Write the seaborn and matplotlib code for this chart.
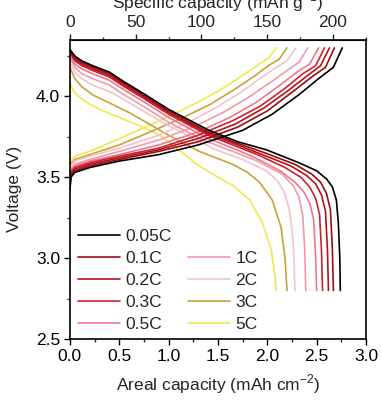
import matplotlib
matplotlib.use("Agg")
import matplotlib.pyplot as plt
from matplotlib.lines import Line2D
from matplotlib.ticker import MultipleLocator, FixedLocator
import seaborn as sns
import pandas as pd

# C-rates and colours
rates = ['0.05C', '0.1C', '0.2C', '0.3C', '0.5C', '1C', '2C', '3C', '5C']
colors = ['#000000', '#9e0c12', '#b5121b', '#d02030', '#ec7890',
          '#f29aa8', '#f6c2cb', '#c9a23a', '#ecea4c']

# discharge curves (areal capacity, voltage)
dis_cap = {
    '0.05C': [0, 0.05, 0.12, 0.23, 0.40, 0.55, 0.74, 1.00, 1.41, 1.70, 1.99, 2.32, 2.50, 2.60, 2.66, 2.70, 2.72, 2.735, 2.74],
    '0.1C': [0, 0.05, 0.12, 0.23, 0.40, 0.55, 0.74, 1.00, 1.40, 1.70, 1.98, 2.28, 2.45, 2.54, 2.60, 2.64, 2.66, 2.67],
    '0.2C': [0, 0.05, 0.12, 0.23, 0.40, 0.55, 0.74, 1.00, 1.40, 1.70, 1.95, 2.24, 2.40, 2.49, 2.55, 2.59, 2.61, 2.62],
    '0.3C': [0, 0.05, 0.12, 0.23, 0.40, 0.55, 0.74, 1.00, 1.40, 1.65, 1.90, 2.18, 2.34, 2.43, 2.49, 2.53, 2.55, 2.56],
    '0.5C': [0, 0.05, 0.12, 0.23, 0.40, 0.55, 0.74, 1.00, 1.40, 1.65, 1.88, 2.13, 2.28, 2.37, 2.43, 2.47, 2.49, 2.50],
    '1C': [0, 0.05, 0.12, 0.23, 0.40, 0.55, 0.74, 1.00, 1.35, 1.65, 1.90, 2.15, 2.26, 2.32, 2.36, 2.38, 2.39],
    '2C': [0, 0.05, 0.12, 0.23, 0.40, 0.55, 0.74, 1.00, 1.25, 1.48, 1.75, 1.99, 2.10, 2.17, 2.22, 2.25, 2.27, 2.28],
    '3C': [0, 0.05, 0.12, 0.23, 0.40, 0.60, 0.80, 1.00, 1.31, 1.65, 1.80, 1.92, 2.05, 2.14, 2.18, 2.20],
    '5C': [0, 0.05, 0.15, 0.30, 0.50, 0.70, 0.91, 1.10, 1.31, 1.50, 1.65, 1.82, 1.95, 2.04, 2.08, 2.09],
}
dis_volt = {
    '0.05C': [4.29, 4.25, 4.22, 4.19, 4.15, 4.09, 4.02, 3.92, 3.79, 3.72, 3.67, 3.59, 3.54, 3.49, 3.44, 3.36, 3.22, 3.00, 2.80],
    '0.1C': [4.28, 4.24, 4.21, 4.18, 4.14, 4.08, 4.01, 3.91, 3.78, 3.71, 3.65, 3.58, 3.52, 3.47, 3.40, 3.30, 3.05, 2.80],
    '0.2C': [4.28, 4.23, 4.20, 4.17, 4.13, 4.07, 4.00, 3.90, 3.77, 3.70, 3.64, 3.57, 3.51, 3.46, 3.39, 3.29, 3.05, 2.80],
    '0.3C': [4.27, 4.22, 4.19, 4.16, 4.12, 4.06, 3.99, 3.89, 3.76, 3.70, 3.64, 3.56, 3.50, 3.44, 3.37, 3.27, 3.04, 2.80],
    '0.5C': [4.25, 4.20, 4.17, 4.14, 4.10, 4.04, 3.97, 3.87, 3.74, 3.68, 3.62, 3.54, 3.47, 3.41, 3.34, 3.24, 3.02, 2.80],
    '1C': [4.24, 4.18, 4.14, 4.11, 4.07, 4.01, 3.94, 3.84, 3.73, 3.66, 3.60, 3.52, 3.45, 3.38, 3.26, 3.05, 2.80],
    '2C': [4.21, 4.15, 4.11, 4.07, 4.03, 3.98, 3.91, 3.82, 3.74, 3.67, 3.61, 3.54, 3.48, 3.41, 3.31, 3.18, 3.02, 2.80],
    '3C': [4.18, 4.11, 4.06, 4.01, 3.96, 3.90, 3.83, 3.76, 3.66, 3.58, 3.53, 3.47, 3.36, 3.19, 3.00, 2.80],
    '5C': [4.08, 4.02, 3.97, 3.92, 3.87, 3.82, 3.76, 3.67, 3.57, 3.50, 3.45, 3.36, 3.22, 3.05, 2.88, 2.80],
}

# charge curves (areal capacity, voltage)
chg_cap = {
    '0.05C': [0, 0.01, 0.05, 0.2, 0.5, 0.9, 1.3, 1.75, 2.05, 2.32, 2.52, 2.67, 2.76],
    '0.1C': [0, 0.01, 0.05, 0.2, 0.5, 0.9, 1.3, 1.70, 2.00, 2.26, 2.45, 2.59, 2.68],
    '0.2C': [0, 0.01, 0.05, 0.2, 0.5, 0.9, 1.3, 1.68, 1.97, 2.22, 2.41, 2.54, 2.63],
    '0.3C': [0, 0.01, 0.05, 0.2, 0.5, 0.9, 1.3, 1.65, 1.93, 2.18, 2.36, 2.49, 2.58],
    '0.5C': [0, 0.01, 0.05, 0.2, 0.5, 0.9, 1.3, 1.62, 1.88, 2.13, 2.30, 2.43, 2.52],
    '1C': [0, 0.01, 0.05, 0.2, 0.5, 0.9, 1.25, 1.55, 1.80, 2.04, 2.20, 2.32, 2.41],
    '2C': [0, 0.01, 0.05, 0.2, 0.5, 0.9, 1.2, 1.48, 1.72, 1.95, 2.09, 2.20, 2.29],
    '3C': [0, 0.01, 0.05, 0.2, 0.5, 0.85, 1.15, 1.42, 1.66, 1.88, 2.01, 2.12, 2.20],
    '5C': [0, 0.01, 0.05, 0.2, 0.47, 0.8, 1.08, 1.35, 1.58, 1.80, 1.92, 2.02, 2.09],
}
chg_volt = {
    '0.05C': [3.42, 3.50, 3.53, 3.56, 3.60, 3.64, 3.70, 3.79, 3.89, 4.01, 4.11, 4.18, 4.30],
    '0.1C': [3.43, 3.51, 3.54, 3.57, 3.61, 3.66, 3.72, 3.81, 3.91, 4.03, 4.12, 4.18, 4.30],
    '0.2C': [3.44, 3.52, 3.55, 3.58, 3.62, 3.67, 3.74, 3.83, 3.93, 4.04, 4.13, 4.19, 4.30],
    '0.3C': [3.45, 3.53, 3.56, 3.59, 3.63, 3.68, 3.76, 3.85, 3.94, 4.05, 4.14, 4.19, 4.30],
    '0.5C': [3.46, 3.54, 3.57, 3.60, 3.64, 3.70, 3.78, 3.87, 3.96, 4.07, 4.15, 4.20, 4.30],
    '1C': [3.47, 3.55, 3.58, 3.61, 3.66, 3.73, 3.81, 3.90, 3.99, 4.09, 4.16, 4.21, 4.30],
    '2C': [3.48, 3.57, 3.60, 3.63, 3.68, 3.76, 3.84, 3.93, 4.02, 4.12, 4.18, 4.22, 4.30],
    '3C': [3.49, 3.58, 3.61, 3.64, 3.70, 3.79, 3.87, 3.95, 4.04, 4.13, 4.19, 4.23, 4.30],
    '5C': [3.50, 3.60, 3.63, 3.66, 3.73, 3.82, 3.90, 3.98, 4.06, 4.15, 4.20, 4.24, 4.30],
}

# tick values
areal_ticks = [0.0, 0.5, 1.0, 1.5, 2.0, 2.5, 3.0]
volt_ticks = [2.5, 3.0, 3.5, 4.0]
spec_ticks = [0, 50, 100, 150, 200]
spec_minor = [25, 75, 125, 175, 225]

# long-form table
rows = []
for r in rates:
    for x, v in zip(dis_cap[r], dis_volt[r]):
        rows.append((r, 'dis', x, v))
    for x, v in zip(chg_cap[r], chg_volt[r]):
        rows.append((r, 'chg', x, v))
df = pd.DataFrame(rows, columns=['rate', 'step', 'cap', 'volt'])

sns.set_style("ticks")
plt.rcParams['font.family'] = ['Liberation Sans', 'DejaVu Sans']
plt.rcParams['mathtext.fontset'] = 'custom'
plt.rcParams['mathtext.rm'] = 'Liberation Sans'

fs = 12.5
fig = plt.figure(figsize=(3.82, 4.0), dpi=100)
ax = fig.add_axes([0.183, 0.1525, 0.775, 0.748])

palette = dict(zip(rates, colors))
# draw fast rates first so slow ones sit on top
for r in rates[::-1]:
    sub = df[df['rate'] == r]
    sns.lineplot(data=sub, x='cap', y='volt', units='step', estimator=None,
                 sort=False, color=palette[r], lw=1.2, ax=ax, legend=False)

ax.set_xlim(0, 3.0)
ax.set_ylim(2.5, 4.35)
ax.xaxis.set_major_locator(FixedLocator(areal_ticks))
ax.xaxis.set_minor_locator(MultipleLocator(0.25))
ax.yaxis.set_major_locator(FixedLocator(volt_ticks))
ax.yaxis.set_minor_locator(MultipleLocator(0.25))
ax.tick_params(which='major', direction='out', length=4, width=1, labelsize=fs,
               colors='black', bottom=True, left=True, pad=3)
ax.tick_params(which='minor', direction='out', length=2.5, width=1, bottom=True, left=True)
ax.set_xlabel('Areal capacity (mAh cm$^{-2}$)', fontsize=fs, labelpad=6)
ax.set_ylabel('Voltage (V)', fontsize=fs, labelpad=10)
for s in ax.spines.values():
    s.set_visible(True)
    s.set_linewidth(1.2)
    s.set_color('black')

top = ax.secondary_xaxis('top', functions=(lambda x: x * 75, lambda x: x / 75))
top.xaxis.set_major_locator(FixedLocator(spec_ticks))
top.xaxis.set_minor_locator(FixedLocator(spec_minor))
top.tick_params(which='major', direction='out', length=4, width=1, labelsize=fs, pad=3)
top.tick_params(which='minor', direction='out', length=2.5, width=1)
top.set_xlabel('Specific capacity (mAh g$^{-1}$)', fontsize=fs, labelpad=5)

# legend: second column aligned to the bottom
handles = [Line2D([], [], color=palette[r], lw=1.2) for r in rates[:5]]
handles.append(Line2D([], [], color='none'))
handles += [Line2D([], [], color=palette[r], lw=1.2) for r in rates[5:]]
labels = rates[:5] + [''] + rates[5:]
ax.legend(handles, labels, ncol=2, frameon=False, fontsize=fs,
          loc='lower left', bbox_to_anchor=(-0.025, -0.03), handlelength=2.4,
          handletextpad=0.35, columnspacing=0.9, labelspacing=0.4)

fig.savefig('out.png', dpi=100)
